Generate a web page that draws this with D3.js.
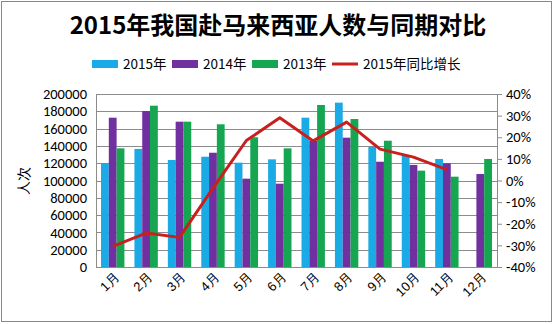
<!DOCTYPE html>
<html><head><meta charset="utf-8">
<script src="https://cdn.jsdelivr.net/npm/d3@7"></script>
<style>
body{margin:0;background:#fff;}
svg{display:block;font-family:"Microsoft YaHei","Noto Sans CJK SC","DejaVu Sans",sans-serif;}
</style></head><body>
<svg id="c" width="553" height="324"></svg>
<script>
const months = ["1月","2月","3月","4月","5月","6月","7月","8月","9月","10月","11月","12月"];
const seriesNames = ["2015年","2014年","2013年"];
const v2015 = [120000,136500,123700,127500,120600,124500,172600,190000,139000,129500,124900,null];
const v2014 = [172600,180300,168000,132100,102100,96300,146000,149500,121700,118000,119900,107500];
const v2013 = [137200,186500,168000,165000,150000,137200,187300,171100,146000,111400,104400,124900];
const growth = [-30.5,-24.3,-26.3,-3.5,18.5,29.0,18.3,27.0,14.5,10.8,5.0];
const lineName = "2015年同比增长";
const leftTicks = [0,20000,40000,60000,80000,100000,120000,140000,160000,180000,200000];
const rightTicks = [-40,-30,-20,-10,0,10,20,30,40];
const colors = ["#1AAAE5","#7030A0","#16A651"];
const lineColor = "#C8201E";

const svg = d3.select("#c");
const L=96, R=497, T=94, B=267;
const numFont = "Calibri,Carlito,'Liberation Sans',sans-serif";

svg.append("rect").attr("x",1.5).attr("y",1.5).attr("width",550).attr("height",320)
  .attr("fill","none").attr("stroke","#888").attr("stroke-width",1);

svg.append("text").attr("x",278).attr("y",34).attr("text-anchor","middle")
  .attr("font-size",24).attr("font-weight","bold").attr("fill","#000")
  .text("2015年我国赴马来西亚人数与同期对比");

const x = d3.scaleBand().domain(months).range([L,R]).paddingInner(0.3).paddingOuter(0.15);
const xs = d3.scaleBand().domain(seriesNames).range([0,x.bandwidth()]);
const y = d3.scaleLinear().domain([0,200000]).range([B,T]);
const y2 = d3.scaleLinear().domain([-40,40]).range([B,T]);

svg.append("g").selectAll("line").data(leftTicks).join("line")
  .attr("x1",L).attr("x2",R).attr("y1",d=>Math.round(y(d))+0.5).attr("y2",d=>Math.round(y(d))+0.5)
  .attr("stroke","#8c8c8c").attr("stroke-width",1);

const data = [v2015,v2014,v2013];
data.forEach((arr,si)=>{
  svg.append("g").selectAll("rect").data(arr.map((v,i)=>({m:months[i],v}))).join("rect")
    .filter(d=>d.v!=null)
    .attr("x",d=>x(d.m)+xs(seriesNames[si]))
    .attr("width",xs.bandwidth())
    .attr("y",d=>y(d.v)).attr("height",d=>B-y(d.v))
    .attr("fill",colors[si]);
});

const ga = svg.append("g").attr("transform",`translate(${L},0)`)
  .call(d3.axisLeft(y).tickValues(leftTicks).tickSize(0).tickPadding(9).tickFormat(d=>String(d)));
ga.select(".domain").attr("stroke","#8c8c8c");
ga.selectAll("text").attr("font-size",14.5).attr("fill","#000").attr("font-family",numFont);

const gr = svg.append("g").attr("transform",`translate(${R},0)`)
  .call(d3.axisRight(y2).tickValues(rightTicks).tickSize(5).tickPadding(4).tickFormat(d=>d+"%"));
gr.select(".domain").attr("stroke","#8c8c8c");
gr.selectAll(".tick line").attr("stroke","#8c8c8c");
gr.selectAll("text").attr("font-size",14.5).attr("fill","#000").attr("font-family",numFont);

const gb = svg.append("g").attr("transform",`translate(0,${B})`)
  .call(d3.axisBottom(x).tickSize(0).tickPadding(0));
gb.select(".domain").attr("stroke","#8c8c8c");
gb.selectAll("text").attr("font-size",13).attr("fill","#000")
  .attr("text-anchor","end").attr("dy",0)
  .attr("transform","translate(7,11) rotate(-45)");

svg.append("text").attr("transform","translate(29,181) rotate(-90)")
  .attr("text-anchor","middle").attr("font-size",14).attr("fill","#000").text("人次");

const line = d3.line().x((d,i)=>x(months[i])+x.bandwidth()/2).y(d=>y2(d));
svg.append("path").attr("d",line(growth)).attr("fill","none")
  .attr("stroke",lineColor).attr("stroke-width",3).attr("stroke-linejoin","round");

const lg = svg.append("g").attr("font-size",13.5);
const items = [
  {t:seriesNames[0],c:colors[0],x:92,type:"rect"},
  {t:seriesNames[1],c:colors[1],x:172,type:"rect"},
  {t:seriesNames[2],c:colors[2],x:252,type:"rect"},
  {t:lineName,c:lineColor,x:332,type:"line"}
];
items.forEach(it=>{
  if(it.type==="rect") lg.append("rect").attr("x",it.x).attr("y",60).attr("width",26).attr("height",8).attr("fill",it.c);
  else lg.append("line").attr("x1",it.x).attr("x2",it.x+26).attr("y1",64).attr("y2",64).attr("stroke",it.c).attr("stroke-width",3);
  lg.append("text").attr("x",it.x+31).attr("y",69).attr("fill","#000").text(it.t);
});
</script>
</body></html>
